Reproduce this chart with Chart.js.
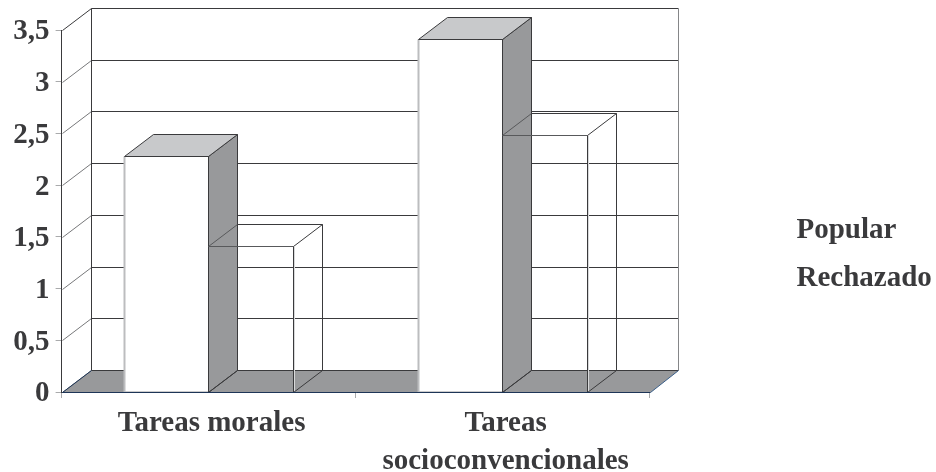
<!DOCTYPE html>
<html><head><meta charset="utf-8">
<style>html,body{margin:0;padding:0;background:#fff}#w{width:936px;height:472px;position:relative}</style>
<script src="https://cdn.jsdelivr.net/npm/chart.js@4"></script>
</head><body><div id="w"><canvas id="c" width="936" height="472"></canvas></div>
<script>
const categories = [['Tareas morales'], ['Tareas', 'socioconvencionales']];
const popular = [2.28, 3.41];
const rechazado = [1.41, 2.48];
const DX = 29, DY = -22;
const INK = '#3a3a3c', SIDE = '#98999b', TOP = '#c8c9cb', EDGE = '#bcbdbf';
const FONT = '"Liberation Serif", serif';
const snap = v => Math.round(v) + .5;
function poly(ctx, pts, fill, stroke, lw) {
  ctx.beginPath();
  pts.forEach((p, i) => i ? ctx.lineTo(snap(p[0]), snap(p[1])) : ctx.moveTo(snap(p[0]), snap(p[1])));
  ctx.closePath();
  if (fill) { ctx.fillStyle = fill; ctx.fill(); }
  if (stroke) { ctx.strokeStyle = stroke; ctx.lineWidth = lw || 1; ctx.stroke(); }
}
function line(ctx, x1, y1, x2, y2, c, lw) {
  ctx.beginPath(); ctx.moveTo(snap(x1), snap(y1)); ctx.lineTo(snap(x2), snap(y2));
  ctx.strokeStyle = c; ctx.lineWidth = lw || 1; ctx.stroke();
}
function box(el) {
  const h = el.width / 2;
  return { l: Math.floor(el.x - h), r: Math.floor(el.x + h), t: el.y, b: el.base };
}
const depth = {
  id: 'depth',
  afterLayout(chart) {
    // put the legend where the reference has it, clear of the plot
    chart.legend.left = 763;
    chart.legend.right = 936;
    chart.legend.top = 38;
  },
  beforeDatasetsDraw(chart) {
    const { ctx, chartArea: a, scales: { y } } = chart;
    ctx.save();
    const base = y.getPixelForValue(0);
    const backR = Math.floor(a.right + DX);
    // floor
    poly(ctx, [[a.left, base], [a.left + DX, base + DY], [backR, base + DY], [a.right, base]], SIDE);
    // back wall and side-wall grid
    y.ticks.forEach(t => {
      const py = y.getPixelForValue(t.value);
      if (t.value > 0) {
        line(ctx, a.left + DX, py + DY, backR, py + DY, INK, 1);
      }
      line(ctx, a.left, py, a.left + DX, py + DY, t.value >= 3.5 ? INK : '#77787a', 1);
    });
    line(ctx, a.left + DX, base + DY, backR, base + DY, INK, 1);
    line(ctx, a.left + DX, a.top + DY, a.left + DX, base + DY, INK, 1);
    line(ctx, backR, a.top + DY, backR, base + DY, '#858688', 1);
    ctx.restore();
  },
  afterDatasetsDraw(chart) {
    const { ctx, chartArea: a, scales: { y } } = chart;
    const base = y.getPixelForValue(0);
    const backR = Math.floor(a.right + DX);
    ctx.save();
    // first series: solid faces
    chart.getDatasetMeta(0).data.forEach(el => {
      const b = box(el);
      poly(ctx, [[b.r, b.t], [b.r + DX, b.t + DY], [b.r + DX, b.b + DY], [b.r, b.b]], SIDE, INK, 1);
      poly(ctx, [[b.l, b.t], [b.l + DX, b.t + DY], [b.r + DX, b.t + DY], [b.r, b.t]], TOP, INK, 1);
      line(ctx, b.l, b.t, b.l, b.b, EDGE, 2);
      line(ctx, b.l, b.b, b.r, b.b, EDGE, 1);
      line(ctx, b.r, b.t, b.r, b.b, INK, 1);
      line(ctx, b.l, b.t, b.r, b.t, INK, 1);
    });
    // second series: wire frame only
    chart.getDatasetMeta(1).data.forEach(el => {
      const b = box(el);
      line(ctx, b.l, b.t, b.r, b.t, '#58595b', 1);
      line(ctx, b.l, b.t, b.l + DX, b.t + DY, '#58595b', 1);
      line(ctx, b.l + DX, b.t + DY, b.r + DX, b.t + DY, INK, 1);
      line(ctx, b.r, b.t, b.r + DX, b.t + DY, INK, 1);
      line(ctx, b.r + DX, b.t + DY, b.r + DX, b.b + DY, INK, 1);
      line(ctx, b.r, b.t, b.r, b.b, INK, 1);
      line(ctx, b.r + 1, b.t, b.r + 1, b.b, '#d8d9da', 1);
      line(ctx, b.r, b.b, b.r + DX, b.b + DY, INK, 1);
      line(ctx, b.l, b.b, b.l + DX, b.b + DY, INK, 1);
    });
    // front edges of the floor
    line(ctx, a.left, base, a.right, base, '#1d3557', 1);
    line(ctx, a.right, base, backR, base + DY, '#3a5f8a', 1);
    line(ctx, a.left, base, a.left + DX, base + DY, '#1d3557', 1);
    ctx.restore();
  }
};
new Chart(document.getElementById('c'), {
  type: 'bar',
  data: {
    labels: categories,
    datasets: [
      { label: 'Popular', data: popular, backgroundColor: '#ffffff', borderWidth: 0 },
      { label: 'Rechazado', data: rechazado, backgroundColor: 'rgba(255,255,255,0)', borderWidth: 0 }
    ]
  },
  plugins: [depth],
  options: {
    responsive: false,
    animation: false,
    categoryPercentage: 0.575,
    barPercentage: 1,
    layout: { padding: { top: 30, left: 0, right: 107.5, bottom: 0 } },
    plugins: {
      title: { display: false },
      tooltip: { enabled: false },
      legend: {
        position: 'right',
        labels: { boxWidth: 0, boxHeight: 0, padding: 19, color: INK, font: { family: FONT, weight: 'bold', size: 29 } }
      }
    },
    scales: {
      x: {
        grid: { offset: true, drawOnChartArea: false, tickLength: 6, tickColor: '#a9aaac' },
        border: { color: '#1d3557' },
        ticks: { color: INK, maxRotation: 0, autoSkip: false, padding: 7, labelOffset: 3, font: { family: FONT, weight: 'bold', size: 29, lineHeight: 1.3 } },
        afterFit(s) { s.height = 80; }
      },
      y: {
        min: 0, max: 3.5,
        grid: { drawOnChartArea: false, tickLength: 6, tickColor: '#a9aaac' },
        border: { color: '#3a3a3c' },
        ticks: { stepSize: 0.5, color: INK, padding: 6, labelOffset: 2, font: { family: FONT, weight: 'bold', size: 29 },
          callback: v => String(v).replace('.', ',') },
        afterFit(s) { s.width = 61.6; }
      }
    }
  }
});
</script></body></html>
